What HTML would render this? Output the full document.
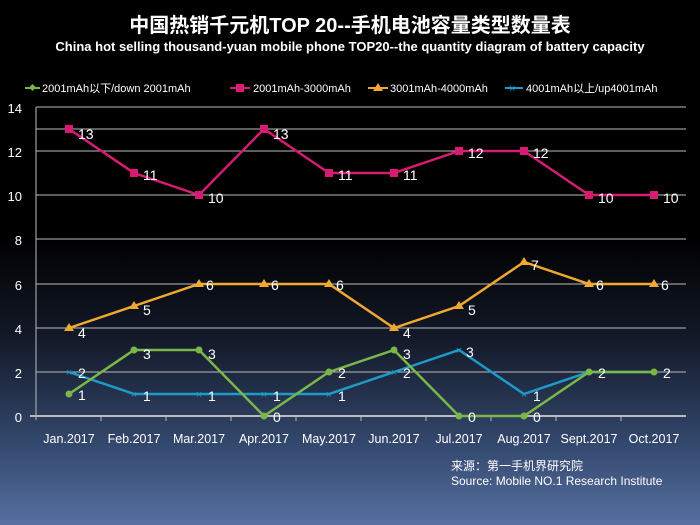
<!DOCTYPE html><html><head><meta charset="utf-8"><style>
body{margin:0}
#c{width:700px;height:525px;position:relative;overflow:hidden;background:linear-gradient(to bottom,#000 0%,#000 45%,#141a2a 65%,#34496f 85%,#5670a0 100%);font-family:"Liberation Sans","Noto Sans CJK SC",sans-serif;color:#fff}
</style></head><body><div id="c">
<svg width="700" height="525" style="position:absolute;left:0;top:0" font-family="Liberation Sans, Noto Sans CJK SC, sans-serif">
<text x="350" y="32" text-anchor="middle" font-size="20" font-weight="bold" fill="#fff">中国热销千元机TOP 20--手机电池容量类型数量表</text>
<text x="350" y="51" text-anchor="middle" font-size="13" font-weight="bold" fill="#fff">China hot selling thousand-yuan mobile phone TOP20--the quantity diagram of battery capacity</text>
<g font-size="11" fill="#fff">
<line x1="25" y1="88" x2="40" y2="88" stroke="#7ab648" stroke-width="2"/><rect x="30" y="85" width="5" height="5" fill="#7ab648" transform="rotate(45 32.5 87.5)"/>
<text x="42" y="92">2001mAh以下/down 2001mAh</text>
<line x1="230" y1="88" x2="250" y2="88" stroke="#d81b72" stroke-width="2"/><rect x="236" y="84" width="8" height="8" fill="#d81b72"/>
<text x="253" y="92">2001mAh-3000mAh</text>
<line x1="368" y1="88" x2="388" y2="88" stroke="#f0a830" stroke-width="2"/><polygon points="378,83 383,91 373,91" fill="#f0a830"/>
<text x="390" y="92">3001mAh-4000mAh</text>
<line x1="505" y1="88" x2="523" y2="88" stroke="#1e9ac8" stroke-width="2"/><text x="509" y="92" fill="#1e9ac8">×</text>
<text x="526" y="92">4001mAh以上/up4001mAh</text>
</g>
<g stroke="#bbb" stroke-width="1">
<line x1="36" y1="107" x2="686" y2="107"/><line x1="36" y1="129" x2="686" y2="129"/><line x1="36" y1="151" x2="686" y2="151"/><line x1="36" y1="195" x2="686" y2="195"/><line x1="36" y1="239" x2="686" y2="239"/><line x1="36" y1="284" x2="686" y2="284"/><line x1="36" y1="328" x2="686" y2="328"/><line x1="36" y1="372" x2="686" y2="372"/>
<line x1="36" y1="107" x2="36" y2="420"/>
</g>
<line x1="30" y1="416" x2="686" y2="416" stroke="#bbb" stroke-width="2"/>
<g stroke="#bbb"><line x1="101" y1="416" x2="101" y2="421"/><line x1="166" y1="416" x2="166" y2="421"/><line x1="231" y1="416" x2="231" y2="421"/><line x1="296" y1="416" x2="296" y2="421"/><line x1="361" y1="416" x2="361" y2="421"/><line x1="426" y1="416" x2="426" y2="421"/><line x1="491" y1="416" x2="491" y2="421"/><line x1="556" y1="416" x2="556" y2="421"/><line x1="621" y1="416" x2="621" y2="421"/></g>
<g font-size="13" fill="#fff" text-anchor="end">
<text x="22" y="113">14</text><text x="22" y="157">12</text><text x="22" y="201">10</text><text x="22" y="245">8</text><text x="22" y="290">6</text><text x="22" y="334">4</text><text x="22" y="378">2</text><text x="22" y="422">0</text>
</g>
<g font-size="12.5" fill="#fff" text-anchor="middle">
<text x="69" y="443">Jan.2017</text><text x="134" y="443">Feb.2017</text><text x="199" y="443">Mar.2017</text><text x="264" y="443">Apr.2017</text><text x="329" y="443">May.2017</text><text x="394" y="443">Jun.2017</text><text x="459" y="443">Jul.2017</text><text x="524" y="443">Aug.2017</text><text x="589" y="443">Sept.2017</text><text x="654" y="443">Oct.2017</text>
</g>
<polyline fill="none" stroke="#d81b72" stroke-width="2.5" points="69,129 134,173 199,195 264,129 329,173 394,173 459,151 524,151 589,195 654,195"/>
<polyline fill="none" stroke="#f0a830" stroke-width="2.5" points="69,328 134,306 199,284 264,284 329,284 394,328 459,306 524,262 589,284 654,284"/>
<polyline fill="none" stroke="#1e9ac8" stroke-width="2.5" points="69,372 134,394 199,394 264,394 329,394 394,372 459,350 524,394 589,372 654,372"/>
<polyline fill="none" stroke="#7ab648" stroke-width="2.5" points="69,394 134,350 199,350 264,416 329,372 394,350 459,416 524,416 589,372 654,372"/>
<g fill="#d81b72"><rect x="65" y="125" width="8" height="8"/><rect x="130" y="169" width="8" height="8"/><rect x="195" y="191" width="8" height="8"/><rect x="260" y="125" width="8" height="8"/><rect x="325" y="169" width="8" height="8"/><rect x="390" y="169" width="8" height="8"/><rect x="455" y="147" width="8" height="8"/><rect x="520" y="147" width="8" height="8"/><rect x="585" y="191" width="8" height="8"/><rect x="650" y="191" width="8" height="8"/></g>
<g fill="#f0a830"><polygon points="69,323 74,331 64,331"/><polygon points="134,301 139,309 129,309"/><polygon points="199,279 204,287 194,287"/><polygon points="264,279 269,287 259,287"/><polygon points="329,279 334,287 324,287"/><polygon points="394,323 399,331 389,331"/><polygon points="459,301 464,309 454,309"/><polygon points="524,257 529,265 519,265"/><polygon points="589,279 594,287 584,287"/><polygon points="654,279 659,287 649,287"/></g>
<g fill="#7ab648"><circle cx="69" cy="394" r="3.5"/><circle cx="134" cy="350" r="3.5"/><circle cx="199" cy="350" r="3.5"/><circle cx="264" cy="416" r="3.5"/><circle cx="329" cy="372" r="3.5"/><circle cx="394" cy="350" r="3.5"/><circle cx="459" cy="416" r="3.5"/><circle cx="524" cy="416" r="3.5"/><circle cx="589" cy="372" r="3.5"/><circle cx="654" cy="372" r="3.5"/></g>
<g font-size="14" fill="#fff">
<text x="78" y="139">13</text><text x="143" y="180">11</text><text x="208" y="203">10</text><text x="273" y="139">13</text><text x="338" y="180">11</text><text x="403" y="180">11</text><text x="468" y="158">12</text><text x="533" y="158">12</text><text x="598" y="203">10</text><text x="663" y="203">10</text>
<text x="78" y="338">4</text><text x="143" y="315">5</text><text x="206" y="290">6</text><text x="271" y="290">6</text><text x="336" y="290">6</text><text x="403" y="338">4</text><text x="468" y="315">5</text><text x="531" y="270">7</text><text x="596" y="290">6</text><text x="661" y="290">6</text>
<text x="78" y="378">2</text><text x="143" y="401">1</text><text x="208" y="401">1</text><text x="273" y="401">1</text><text x="338" y="401">1</text><text x="403" y="378">2</text><text x="466" y="357">3</text><text x="533" y="401">1</text><text x="598" y="378">2</text><text x="663" y="378">2</text>
<text x="78" y="400">1</text><text x="143" y="359">3</text><text x="208" y="359">3</text><text x="273" y="422">0</text><text x="338" y="378">2</text><text x="403" y="359">3</text><text x="468" y="422">0</text><text x="533" y="422">0</text>
</g>
<g font-size="11" fill="#1e9ac8" text-anchor="middle"><text x="69" y="376">×</text><text x="134" y="398">×</text><text x="199" y="398">×</text><text x="264" y="398">×</text><text x="329" y="398">×</text><text x="394" y="376">×</text><text x="459" y="354">×</text><text x="524" y="398">×</text></g>
<g font-size="12" fill="#fff"><text x="451" y="470">来源：第一手机界研究院</text><text x="451" y="485">Source: Mobile NO.1 Research Institute</text></g>
</svg></div></body></html>
